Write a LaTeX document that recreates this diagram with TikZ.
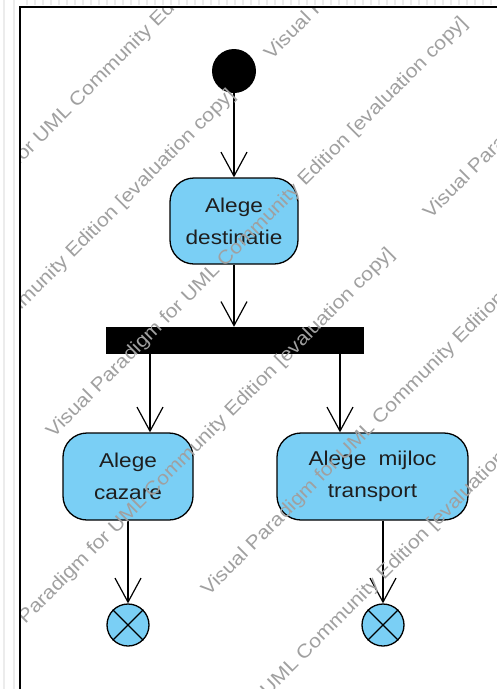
\documentclass[tikz,border=0pt]{standalone}
\usepackage{fontspec}
\setmainfont{Liberation Sans}
\newfontfamily\lblfont[FakeStretch=1.13]{Liberation Sans}
\newfontfamily\wmfont[FakeStretch=1.12]{Liberation Sans}
\usetikzlibrary{arrows.meta}
\definecolor{vpblue}{RGB}{122,207,245}
\definecolor{wmgray}{RGB}{160,160,160}
\definecolor{txtcol}{RGB}{30,30,30}
\definecolor{rulegray}{RGB}{236,236,236}
\begin{document}
\begin{tikzpicture}[x=1pt,y=-1pt,
  action/.style={draw=black, line width=1.3pt, fill=vpblue, rounded corners=24pt,
    align=center, font=\lblfont\fontsize{20}{32}\selectfont, text=txtcol, inner sep=0pt},
  initnode/.style={circle, fill=black, minimum size=44pt, inner sep=0pt},
  finalnode/.style={circle, draw=black, line width=1.3pt, fill=vpblue, minimum size=42pt, inner sep=0pt},
  forkbar/.style={rectangle, fill=black, minimum width=258pt, minimum height=27pt, inner sep=0pt},
  flow/.style={draw=black, line width=1.2pt, -{Straight Barb[length=24pt,width=26pt]}},
  wm/.style={font=\wmfont\fontsize{19}{22}\selectfont, text=wmgray, inner sep=0pt, anchor=west, rotate=45}]
\useasboundingbox (0,0) rectangle (497,689);
\fill[white] (0,0) rectangle (497,689);
% ruler-like margin
\fill[rulegray] (3,0) rectangle (5,689);
\fill[rulegray] (13,0) rectangle (15,689);
\foreach \x in {26,34,...,497} {\fill[rulegray] (\x,0) rectangle (\x+2,5);}
% frame
\draw[line width=1.6pt] (20,700) -- (20,7) -- (510,7);

% nodes
\node[initnode] (init) at (234,71) {};
\node[action, minimum width=128pt, minimum height=86pt] (dest) at (234,221) {Alege\\destinatie};
\node[forkbar] (fork) at (235,340.5) {};
\node[action, minimum width=130pt, minimum height=87pt] (caz) at (128,476.5) {Alege\\cazare};
\node[action, minimum width=191pt, minimum height=87pt] (trans) at (372.5,476.5) {Alege\hspace{0.3em} mijloc\\transport};
\node[finalnode] (fin1) at (128,625) {};
\node[finalnode] (fin2) at (383,625) {};
\draw[line width=1.3pt] (fin1.north east) -- (fin1.south west) (fin1.north west) -- (fin1.south east);
\draw[line width=1.3pt] (fin2.north east) -- (fin2.south west) (fin2.north west) -- (fin2.south east);

% connectors
\draw[flow] (init.south) -- (dest.north);
\draw[flow] (dest.south) -- (dest.south |- fork.north);
\draw[flow] ([xshift=22pt]caz.north |- fork.south) -- ([xshift=22pt]caz.north);
\draw[flow] ([xshift=-32.5pt]trans.north |- fork.south) -- ([xshift=-32.5pt]trans.north);
\draw[flow] (caz.south) -- (fin1.north);
\draw[flow] (fin2.north |- trans.south) -- (fin2.north);

% watermark
\begin{scope}
\clip (21,8) rectangle (497,689);
\node[wm] (w1) at (-98,276) {Visual Paradigm for UML Community Edition [evaluation copy]};
\node[wm] (w2) at (-182,507) {Visual Paradigm for UML Community Edition [evaluation copy]};
\node[wm] (w3) at (268,57) {Visual Paradigm for UML Community Edition [evaluation copy]};
\node[wm] (w4) at (50,435) {Visual Paradigm for UML Community Edition [evaluation copy]};
\node[wm] (w5) at (-23,666) {Visual Paradigm for UML Community Edition [evaluation copy]};
\node[wm] (w6) at (427,216) {Visual Paradigm for UML Community Edition [evaluation copy]};
\node[wm] (w7) at (205,593) {Visual Paradigm for UML Community Edition [evaluation copy]};
\node[wm] (w8) at (129,829) {Visual Paradigm for UML Community Edition [evaluation copy]};
\end{scope}
\end{tikzpicture}
\end{document}
